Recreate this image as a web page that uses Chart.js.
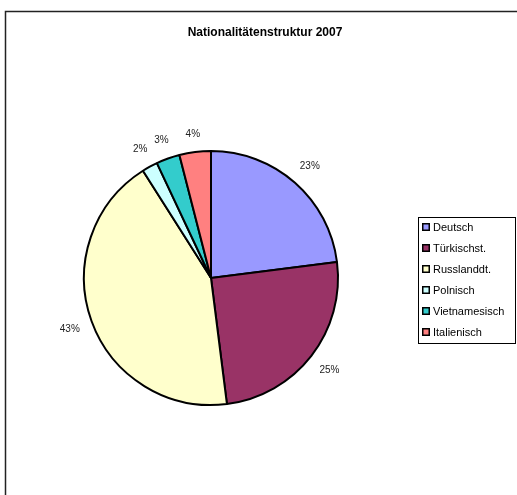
<!DOCTYPE html>
<html>
<head>
<meta charset="utf-8">
<script src="https://cdn.jsdelivr.net/npm/chart.js@4/dist/chart.umd.min.js"></script>
<style>
	html, body { margin: 0; padding: 0; background: #fff; }
	#chart { display: block; }
</style>
</head>
<body>
<canvas id="chart" width="517" height="495"></canvas>
<script>
const chartTitle = 'Nationalitätenstruktur 2007';
const labels = ['Deutsch', 'Türkischst.', 'Russlanddt.', 'Polnisch', 'Vietnamesisch', 'Italienisch'];
const shares = [23, 25, 43, 2, 3, 4];
const colors = ['#9999FF', '#993366', '#FFFFCC', '#CCFFFF', '#33CCCC', '#FF8080'];

// frame, title, percent labels and the boxed legend
const decorations = {
	id: 'decorations',
	afterDatasetsDraw(chart) {
		const { ctx } = chart;
		ctx.save();

		ctx.strokeStyle = '#222';
		ctx.lineWidth = 1.5;
		ctx.strokeRect(5.5, 11.5, 530, 500);

		ctx.fillStyle = '#000';
		ctx.font = 'bold 12px "Liberation Sans", Arial';
		ctx.textAlign = 'center';
		ctx.textBaseline = 'middle';
		ctx.fillText(chartTitle, 265, 33);

		const meta = chart.getDatasetMeta(0);
		const total = shares.reduce((a, b) => a + b, 0);
		ctx.font = '10px "Liberation Sans", Arial';
		ctx.fillStyle = '#222';
		meta.data.forEach((arc, i) => {
			const { x, y, startAngle, endAngle, outerRadius } = arc.getProps(['x', 'y', 'startAngle', 'endAngle', 'outerRadius'], true);
			const mid = (startAngle + endAngle) / 2;
			const txt = Math.round(shares[i] / total * 100) + '%';
			const hw = ctx.measureText(txt).width / 2;
			// keep the label box a fixed gap away from the rim
			const r = outerRadius + 12 + Math.abs(Math.cos(mid)) * hw + Math.abs(Math.sin(mid)) * 5;
			ctx.fillText(txt, x + Math.cos(mid) * r, y + Math.sin(mid) * r);
		});

		// legend
		const lx = 418, ly = 217, lw = 97, lh = 126;
		ctx.lineWidth = 1;
		ctx.strokeStyle = '#000';
		ctx.strokeRect(lx + 0.5, ly + 0.5, lw, lh);
		ctx.font = '11px "Liberation Sans", Arial';
		ctx.textAlign = 'left';
		labels.forEach((lab, i) => {
			const cy = 227 + i * 21;
			ctx.fillStyle = '#000';
			ctx.fillRect(422, cy - 4, 8, 8);
			ctx.fillStyle = colors[i];
			ctx.fillRect(423.5, cy - 2.5, 5, 5);
			ctx.fillStyle = '#000';
			ctx.fillText(lab, 433, cy + 0.5);
		});

		ctx.restore();
	}
};

new Chart(document.getElementById('chart'), {
	type: 'pie',
	data: {
		labels: labels,
		datasets: [{
			data: shares,
			backgroundColor: colors,
			borderColor: '#000',
			borderWidth: 2
		}]
	},
	options: {
		responsive: false,
		animation: false,
		radius: 127,
		layout: { padding: { left: 60, right: 155, top: 130, bottom: 69 } },
		plugins: {
			legend: { display: false },
			title: { display: false },
			tooltip: { enabled: false }
		}
	},
	plugins: [decorations]
});
</script>
</body>
</html>
